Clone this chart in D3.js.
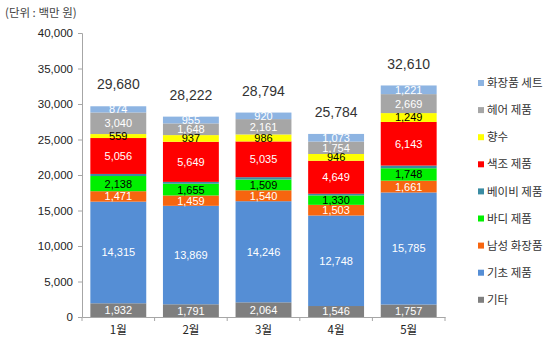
<!DOCTYPE html>
<html>
<head>
<meta charset="utf-8">
<script src="https://cdn.jsdelivr.net/npm/d3@7"></script>
<style>
body { margin: 0; background: #fff; }
text { font-family: "Liberation Sans", "Noto Sans CJK KR", sans-serif; }
.ko { font-family: "Noto Sans CJK KR", sans-serif; }
</style>
</head>
<body>
<div id="chart"></div>
<script>
var months = ["1월", "2월", "3월", "4월", "5월"];
var series = ["기타", "기초 제품", "남성 화장품", "바디 제품", "베이비 제품", "색조 제품", "향수", "헤어 제품", "화장품 세트"];
var colors = ["#7f7f7f", "#558ed5", "#f7650f", "#00f000", "#3a8ca3", "#ff0000", "#ffff00", "#a6a6a6", "#8db4e2"];
var labelColors = ["#fff", "#fff", "#fff", "#000", null, "#fff", "#000", "#fff", "#fff"];

var gita     = [1932, 1791, 2064, 1546, 1757];
var gicho    = [14315, 13869, 14246, 12748, 15785];
var namsung  = [1471, 1459, 1540, 1503, 1661];
var body     = [2138, 1655, 1509, 1330, 1748];
var baby     = [295, 259, 333, 235, 377];
var makeup   = [5056, 5649, 5035, 4649, 6143];
var perfume  = [559, 937, 986, 946, 1249];
var hair     = [3040, 1648, 2161, 1754, 2669];
var giftSet  = [874, 955, 920, 1073, 1221];
var totals   = [29680, 28222, 28794, 25784, 32610];
var yTicks   = [0, 5000, 10000, 15000, 20000, 25000, 30000, 35000, 40000];

var values = [gita, gicho, namsung, body, baby, makeup, perfume, hair, giftSet];

var W = 550, H = 341;
var margin = { top: 33, left: 82, bottom: 24 };
var plotW = 363, plotH = H - margin.top - margin.bottom;

var svg = d3.select("#chart").append("svg")
    .attr("width", W)
    .attr("height", H);

var x = d3.scaleBand()
    .domain(months)
    .range([0, plotW])
    .paddingInner(0.23)
    .paddingOuter(0.115);

var y = d3.scaleLinear()
    .domain([0, 40000])
    .range([plotH, 0]);

var g = svg.append("g")
    .attr("transform", "translate(" + margin.left + "," + margin.top + ")");

var table = months.map(function(m, i) {
    var row = { month: m };
    series.forEach(function(s, k) { row[s] = values[k][i]; });
    return row;
});
var stacked = d3.stack().keys(series)(table);

var layers = g.selectAll(".layer")
    .data(stacked)
    .enter().append("g")
    .attr("class", "layer")
    .attr("fill", function(d, k) { return colors[k]; });

layers.selectAll("rect")
    .data(function(d) { return d; })
    .enter().append("rect")
    .attr("x", function(d) { return x(d.data.month); })
    .attr("width", x.bandwidth())
    .attr("y", function(d) { return y(d[1]); })
    .attr("height", function(d) { return y(d[0]) - y(d[1]); });

// segment labels
stacked.forEach(function(layer, k) {
    if (!labelColors[k]) return;
    g.selectAll(".lbl" + k)
        .data(layer)
        .enter().append("text")
        .attr("x", function(d) { return x(d.data.month) + x.bandwidth() / 2; })
        .attr("y", function(d) { return (y(d[0]) + y(d[1])) / 2; })
        .attr("dy", "0.36em")
        .attr("text-anchor", "middle")
        .attr("font-size", 11)
        .attr("fill", labelColors[k])
        .text(function(d) { return d3.format(",")(d[1] - d[0]); });
});

// totals
g.selectAll(".total")
    .data(totals)
    .enter().append("text")
    .attr("x", function(d, i) { return x(months[i]) + x.bandwidth() / 2; })
    .attr("y", function(d) { return y(d) - 22; })
    .attr("dy", "0.36em")
    .attr("text-anchor", "middle")
    .attr("font-size", 14)
    .attr("fill", "#333")
    .text(d3.format(","));

// y axis
var yAxis = g.append("g")
    .call(d3.axisLeft(y).tickValues(yTicks).tickSize(4).tickPadding(5).tickFormat(d3.format(",")));
yAxis.selectAll("line, path").attr("stroke", "#a6a6a6");
yAxis.selectAll("text").attr("font-size", 11.5).attr("fill", "#222")
    .style("font-family", "'Liberation Sans', sans-serif");

// x axis
var xAxis = g.append("g")
    .attr("transform", "translate(0," + plotH + ")")
    .call(d3.axisBottom(x).tickSize(0).tickPadding(9).tickSizeOuter(0));
xAxis.select("path").attr("stroke", "#a6a6a6");
xAxis.selectAll("text").attr("font-size", 11.5).attr("fill", "#222")
    .attr("class", "ko");
var step = x.step();
g.selectAll(".xtick")
    .data(d3.range(months.length + 1))
    .enter().append("line")
    .attr("x1", function(i) { return i * step; })
    .attr("x2", function(i) { return i * step; })
    .attr("y1", plotH)
    .attr("y2", plotH + 4)
    .attr("stroke", "#a6a6a6");

// unit label
svg.append("text")
    .attr("class", "ko")
    .attr("x", 5)
    .attr("y", 17)
    .attr("font-size", 11.5)
    .attr("fill", "#444")
    .text("(단위 : 백만 원)");

// legend (top to bottom in reverse stack order)
var legend = svg.append("g")
    .attr("transform", "translate(478,83)");
var legItems = series.slice().reverse();
legItems.forEach(function(s, i) {
    var k = series.length - 1 - i;
    var item = legend.append("g").attr("transform", "translate(0," + (i * 27.1) + ")");
    item.append("rect")
        .attr("x", 0).attr("y", -3)
        .attr("width", 6).attr("height", 6)
        .attr("fill", colors[k]);
    item.append("text")
        .attr("class", "ko")
        .attr("x", 9)
        .attr("dy", "0.36em")
        .attr("font-size", 11.5)
        .attr("fill", "#333")
        .text(s);
});
</script>
</body>
</html>
